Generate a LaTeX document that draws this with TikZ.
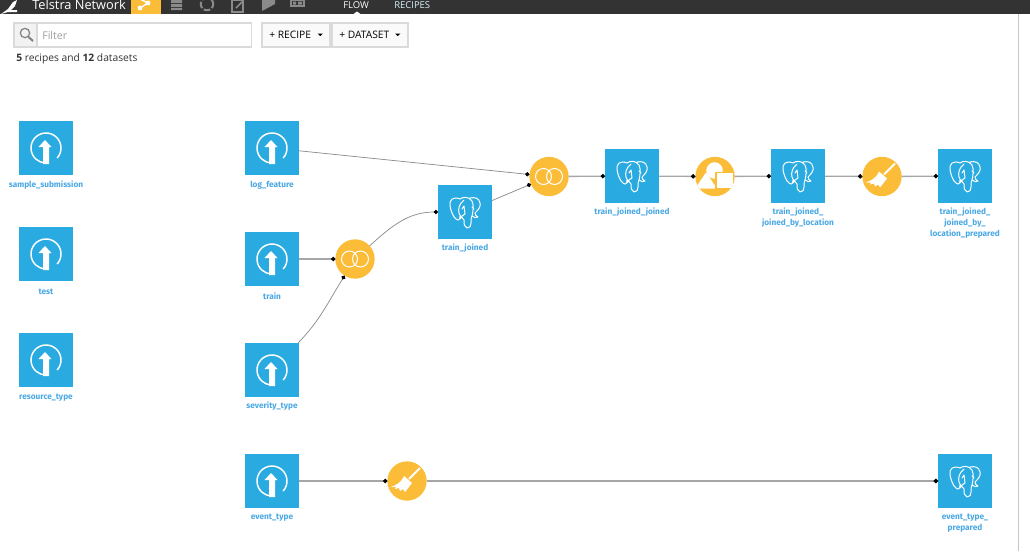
\documentclass[tikz,border=0pt]{standalone}
\usepackage{fontspec}
\setmainfont{Open Sans}
\newfontfamily\labelfont{Fira Sans}
\usetikzlibrary{arrows.meta}

\definecolor{dssblue}{HTML}{29ABE2}
\definecolor{dssorange}{HTML}{FBBC38}
\definecolor{dsslabel}{HTML}{4AA8E4}
\definecolor{barblack}{HTML}{333333}
\definecolor{bargray}{HTML}{8A8A8A}
\definecolor{boxline}{HTML}{DADADA}

\tikzset{
    dataset/.style={draw=none, fill=dssblue, minimum size=40.5pt, inner sep=0pt, outer sep=0pt},
    recipe/.style={circle, fill=dssorange, minimum size=29.5pt, inner sep=0pt, outer sep=0pt},
    dsname/.style={text=dsslabel, align=center, font=\labelfont\bfseries\fontsize{6.2}{8.5}\selectfont, inner sep=0pt},
    barname/.style={text=white, inner sep=0pt, anchor=base west},
    toolbox/.style={draw=boxline, line width=0.8pt, fill=#1, inner sep=0pt, outer sep=0pt},
    link/.style={-{Circle[length=3.2pt, color=black]}, draw=gray!90, line width=0.55pt},
    hlink/.style={-{Circle[length=3.2pt, color=black]}, draw=gray!70, line width=1pt},
    upload/.pic={
        \draw[white, line width=1.1pt] ([shift={(-42:11.25pt)}]0,0) arc[start angle=-42, end angle=268, radius=11.25pt];
        \fill[white] (-3,16) -- (-3,-1) -- (-7.5,-1) -- (-1,-8) -- (5.5,-1) -- (3,-1) -- (3,16) -- cycle;
    },
    elephant/.pic={
        \draw[white, line width=0.75pt, line join=round, line cap=round]
            (-5,-13) .. controls (-12,-16) and (-16,-12) .. (-15,-6)
            .. controls (-14,-1) and (-12,5) .. (-9,7)
            .. controls (-7,9) and (-5,8) .. (-5,4)
            (-5,-13) .. controls (-3,-15) and (4,-16) .. (7,-11)
            .. controls (9,-7) and (8,0) .. (7,4)
            (-1,-12) .. controls (-6,-8) and (-7,-3) .. (-6,1)
            .. controls (-5,5) and (-2,5) .. (-1,8)
            .. controls (-1,12) and (-1,15) .. (2,16)
            .. controls (5,16) and (6,14) .. (6,11)
            .. controls (6,8) and (6,5) .. (7,4)
            .. controls (9,6) and (12,6) .. (13,5)
            .. controls (11,4) and (10,3) .. (10,1)
            .. controls (13,-2) and (16,-5) .. (15,-9)
            .. controls (14,-14) and (10,-15) .. (5,-14)
            (-3,-3) -- (-1,-6) -- (0,2) -- (-3,4) -- (-5,7)
            (7,-5) -- (9,-3);
    },
    joinrings/.pic={
        \draw[white, line width=0.75pt] (-5.5,0) circle[radius=6pt] (5.5,0) circle[radius=6pt];
    },
    broom/.pic={
        \draw[white, line width=1.5pt] (13,-13) -- (2,-2);
        \fill[white] (-3,-5) -- (5,2) -- (-2,11) -- (-4,8) -- (-7,10) -- (-8,7) -- (-12,8) -- (-11,6) -- (-16,6)
            .. controls (-11,4) and (-6,2) .. (-3,-5) -- cycle;
    },
    shapesmix/.pic={
        \clip (0,0) circle[radius=14.75pt];
        \fill[white] (-0.5,-6) circle[radius=6.2pt];
        \fill[white] (-20,12) -- (-9,-4) -- (2,12) -- cycle;
        \filldraw[white, draw=dssorange, line width=0.8pt] (1,-4) rectangle (19,12);
    }
}

\begin{document}
\begin{tikzpicture}[x=0.75pt, y=-0.75pt]

    \useasboundingbox (0,0) rectangle (1030,551);

    % top bar
    \fill[barblack] (0,0) rectangle (1030,14);
    \fill[dssorange] (131,0) rectangle (161,14);
    \fill[white] (353.5,14) -- (357,11.5) -- (360.5,14) -- cycle;
    \fill[white] (1,14) -- (8,9) -- (13,2) -- (17,0) -- (15,6) -- (11,10) -- (17,10) -- (17,12) -- (8,12) -- cycle;
    \node[barname, font=\fontsize{9.6}{11}\selectfont] (title) at (32,9) {Telstra Network};
    \node[barname, font=\fontsize{7.1}{9}\selectfont] (flowtab) at (343,8.5) {FLOW};
    \node[barname, font=\fontsize{7.1}{9}\selectfont, text=white!85!cyan] (recipestab) at (394,8.5) {RECIPES};

    % bar icons
    \draw[white, line width=1.1pt] (140,-1) -- (148,3) -- (140,8);
    \fill[white] (140,8) circle[radius=1.8pt] (148,3) circle[radius=1.8pt];
    \fill[bargray] (171,0) rectangle (182,3) (171,4) rectangle (182,7) (171,8) rectangle (182,10);
    \draw[bargray, line width=1.5pt, dash pattern=on 5pt off 1.5pt] (207,4) circle[radius=4.7pt];
    \draw[bargray, line width=1pt] (232,0) rectangle (243,12);
    \draw[bargray, line width=1.2pt] (236,8) -- (243,1);
    \fill[bargray] (262,0) -- (262,11) -- (275,4) -- (275,0) -- cycle;
    \draw[bargray, line width=1pt] (291,0) rectangle (304,6);
    \fill[bargray] (293,1.5) rectangle (296,4.5) (298,1.5) rectangle (302,4.5);

    % right edge of the page
    \draw[gray!45, line width=0.8pt] (1018.5,14) -- (1018.5,551);

    % filter and buttons
    \node[toolbox=white, minimum width=178pt, minimum height=18pt] (filterbox) at (133,35) {};
    \node[toolbox=gray!10, minimum width=17.25pt, minimum height=18pt] (searchbox) at (25.5,35) {};
    \node[inner sep=0pt, anchor=west, text=gray!75, font=\fontsize{8}{10}\selectfont] (filtertext) at (42,35) {Filter};
    \draw[gray, line width=0.9pt] (25,33) circle[radius=3.5pt];
    \draw[gray, line width=1.5pt] (28.5,37) -- (33,41);
    \node[toolbox=gray!4, minimum width=51pt, minimum height=18pt] (recipebtn) at (296,35) {};
    \node[toolbox=gray!4, minimum width=57pt, minimum height=18pt] (datasetbtn) at (370,35) {};
    \node[inner sep=0pt, anchor=west, font=\fontsize{7.7}{9}\selectfont] (recipetext) at (269,35) {+ RECIPE};
    \node[inner sep=0pt, anchor=west, font=\fontsize{7.7}{9}\selectfont] (datasettext) at (339,35) {+ DATASET};
    \fill[black] (317.5,33.5) -- (323,33.5) -- (320.25,36) -- cycle;
    \fill[black] (395,33.5) -- (400.5,33.5) -- (397.75,36) -- cycle;
    \node[inner sep=0pt, anchor=base west, text=barblack, font=\fontsize{7.7}{10}\selectfont] (counts) at (16,61) {\textbf{5} recipes and \textbf{12} datasets};

    % datasets
    \node[dataset] (samplesub) at (46,148) {};
    \node[dataset] (testset) at (46,254) {};
    \node[dataset] (resourcetype) at (46,360) {};
    \node[dataset] (logfeature) at (272,148) {};
    \node[dataset] (trainset) at (272,259) {};
    \node[dataset] (severitytype) at (272,370) {};
    \node[dataset] (eventtype) at (272,481) {};
    \node[dataset] (trainjoined) at (465,212) {};
    \node[dataset] (joinedjoined) at (632,176) {};
    \node[dataset] (bylocation) at (798,176) {};
    \node[dataset] (locprepared) at (965,176) {};
    \node[dataset] (eventprepared) at (965,481) {};

    % recipes
    \node[recipe] (joinleft) at (355,259) {};
    \node[recipe] (joinright) at (549,176.5) {};
    \node[recipe] (geojoin) at (715,176.5) {};
    \node[recipe] (prepareloc) at (882,176.5) {};
    \node[recipe] (prepareevent) at (407,481) {};

    % icons
    \pic at (samplesub) {upload};
    \pic at (testset) {upload};
    \pic at (resourcetype) {upload};
    \pic at (logfeature) {upload};
    \pic at (trainset) {upload};
    \pic at (severitytype) {upload};
    \pic at (eventtype) {upload};
    \pic at (trainjoined) {elephant};
    \pic at (joinedjoined) {elephant};
    \pic at (bylocation) {elephant};
    \pic at (locprepared) {elephant};
    \pic at (eventprepared) {elephant};
    \pic at (joinleft) {joinrings};
    \pic at (joinright) {joinrings};
    \pic at (geojoin) {shapesmix};
    \pic at (prepareloc) {broom};
    \pic at (prepareevent) {broom};

    % dataset names
    \node[dsname] (samplesubname) at (46,185.5) {sample\_submission};
    \node[dsname] (testsetname) at (46,291.5) {test};
    \node[dsname] (resourcename) at (46,397.5) {resource\_type};
    \node[dsname] (logfeaturename) at (272,185.5) {log\_feature};
    \node[dsname] (trainsetname) at (272,296.5) {train};
    \node[dsname] (severityname) at (272,406.5) {severity\_type};
    \node[dsname] (eventname) at (272,517.5) {event\_type};
    \node[dsname] (trainjoinedname) at (465,248.5) {train\_joined};
    \node[dsname] (joinedjoinedname) at (632,212.5) {train\_joined\_joined};
    \node[dsname] (bylocationname) at (798,217.5) {train\_joined\_\\joined\_by\_location};
    \node[dsname] (locpreparedname) at (965,223) {train\_joined\_\\joined\_by\_\\location\_prepared};
    \node[dsname] (eventpreparedname) at (965,523) {event\_type\_\\prepared};

    % links
    \draw[link] (logfeature) -- (joinright);
    \draw[link] (trainjoined) -- (joinright);
    \draw[hlink] (trainset) -- (joinleft);
    \draw[link] (severitytype) to[out=46, in=-122] (joinleft);
    \draw[link] (joinleft) to[out=42, in=180] (trainjoined);
    \draw[hlink] (joinright) -- (joinedjoined);
    \draw[hlink] (joinedjoined) -- (geojoin);
    \draw[hlink] (geojoin) -- (bylocation);
    \draw[hlink] (bylocation) -- (prepareloc);
    \draw[hlink] (prepareloc) -- (locprepared);
    \draw[hlink] (eventtype) -- (prepareevent);
    \draw[hlink] (prepareevent) -- (eventprepared);

\end{tikzpicture}
\end{document}
